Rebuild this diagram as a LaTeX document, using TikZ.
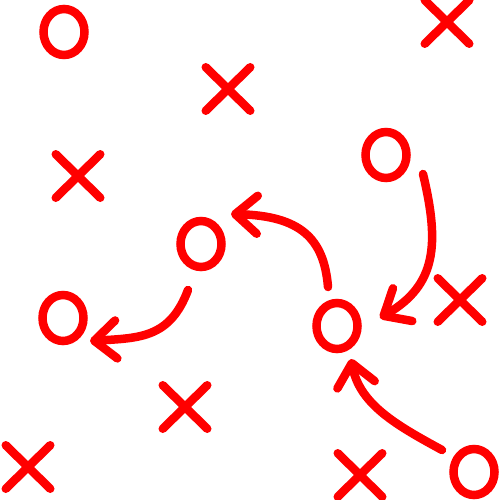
\documentclass[tikz,border=0pt]{standalone}
\usetikzlibrary{shapes.geometric,shapes.misc,arrows.meta}
\definecolor{playred}{RGB}{255,0,0}
\tikzset{
  omark/.style = {ellipse, draw = playred, line width = 8.5pt, minimum width = 41pt, minimum height = 46pt, inner sep = 0pt},
  xmark/.style = {cross out, draw = playred, line width = 8.5pt, line cap = round, minimum width = 36pt, minimum height = 35pt, inner sep = 0pt},
  route/.style = {draw = playred, line width = 8.5pt, line cap = round, -{Straight Barb[length = 22pt, width = 38pt, round]}}
}
\begin{document}
\begin{tikzpicture}[x = 1pt, y = -1pt]
\useasboundingbox (0,0) rectangle (500,500);

% players
\node[omark] (o1) at (64,32) {};
\node[omark] (o2) at (386,155) {};
\node[omark] (o3) at (337,326) {};
\node[omark] (o4) at (63,318) {};
\node[omark] (o5) at (474,472) {};
\node[omark] (o6) at (201,244) {};

% defenders
\foreach \pos [count = \i] in {(447,22), (228,89), (78,176), (460,300), (185,407), (360,475), (28,467)}
   \node[xmark] (x\i) at \pos {};

% routes
\coordinate (a1) at (328,287);  \coordinate (a2) at (231,214);
\coordinate (b1) at (423,174);  \coordinate (b2) at (380,318);
\coordinate (c1) at (188,290);  \coordinate (c2) at (90,341);
\coordinate (d1) at (442,450);  \coordinate (d2) at (351,359);

\draw[route] (a1) .. controls (324,238) and (300,216) .. (a2);
\draw[route] (b1) .. controls (440,245) and (436,285) .. (b2);
\draw[route] (c1) .. controls (170,338) and (140,338) .. (c2);
\draw[route] (d1) .. controls (398,426) and (360,405) .. (d2);

\end{tikzpicture}
\end{document}
